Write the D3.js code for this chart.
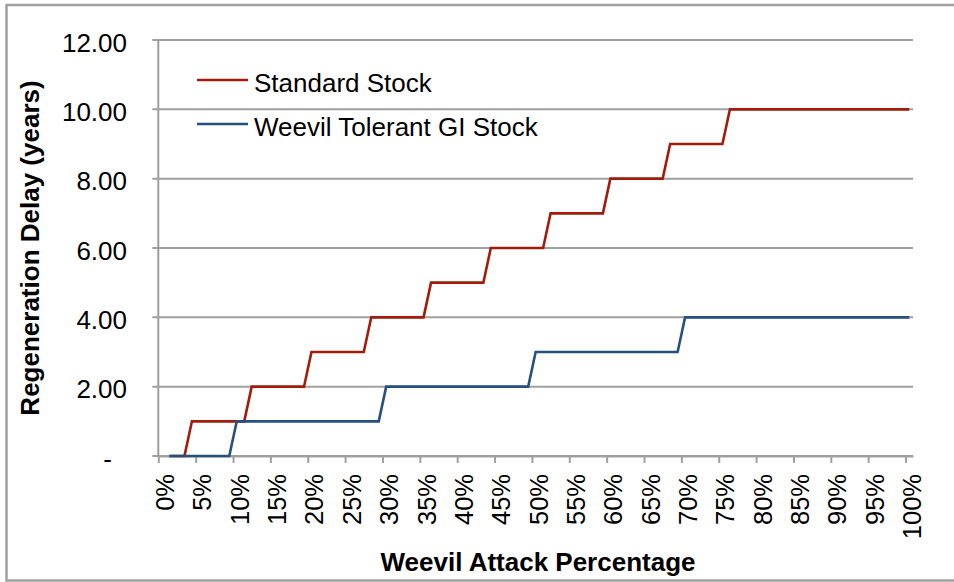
<!DOCTYPE html>
<html>
<head>
	<meta charset="utf-8">
	<script src="https://cdn.jsdelivr.net/npm/d3@7"></script>
</head>
<body>
<style>
body{
	margin:0;
	background:#fff;
}
text{
	font-family:"Liberation Sans", Arial, sans-serif;
	fill:#000;
}
.grid line{
	stroke:#a0a0a0;
	stroke-width:2px;
}
.axis line, .axis path{
	stroke:#a0a0a0;
	stroke-width:2px;
}
.tick-label{
	font-size:26px;
}
.x-label{
	font-size:25.5px;
}
.title{
	font-size:26px;
	font-weight:bold;
}
.series{
	fill:none;
	stroke-width:2.6px;
	stroke-linejoin:miter;
}
.legend-text{
	font-size:26px;
}
</style>
<svg width="954" height="582"></svg>
<script>

// attack levels 1% .. 100% (the 0% category has no value)
var attackPct = d3.range(1, 101);

var standardStock = [
	0,0,0,1,1,1,1,1,1,1,
	1,2,2,2,2,2,2,2,2,3,
	3,3,3,3,3,3,3,4,4,4,
	4,4,4,4,4,5,5,5,5,5,
	5,5,5,6,6,6,6,6,6,6,
	6,7,7,7,7,7,7,7,7,8,
	8,8,8,8,8,8,8,9,9,9,
	9,9,9,9,9,10,10,10,10,10,
	10,10,10,10,10,10,10,10,10,10,
	10,10,10,10,10,10,10,10,10,10
];

var tolerantStock = [
	0,0,0,0,0,0,0,0,0,1,
	1,1,1,1,1,1,1,1,1,1,
	1,1,1,1,1,1,1,1,1,2,
	2,2,2,2,2,2,2,2,2,2,
	2,2,2,2,2,2,2,2,2,3,
	3,3,3,3,3,3,3,3,3,3,
	3,3,3,3,3,3,3,3,3,4,
	4,4,4,4,4,4,4,4,4,4,
	4,4,4,4,4,4,4,4,4,4,
	4,4,4,4,4,4,4,4,4,4
];

var seriesNames = ["Standard Stock", "Weevil Tolerant GI Stock"];
var seriesColors = ["#a01c0c", "#27507e"];

var yTicks = [0, 2, 4, 6, 8, 10, 12];
var yTickLabels = ["-", "2.00", "4.00", "6.00", "8.00", "10.00", "12.00"];
var xLabelPct = [0,5,10,15,20,25,30,35,40,45,50,55,60,65,70,75,80,85,90,95,100];
var xLabels = ["0%","5%","10%","15%","20%","25%","30%","35%","40%","45%","50%","55%","60%","65%","70%","75%","80%","85%","90%","95%","100%"];

var svg = d3.select("svg");

var plotLeft = 158.3, plotRight = 913, plotTop = 40, plotBottom = 456;

// category axis: 101 bands (0%..100%), ticks sit between bands
var x = d3.scaleLinear().domain([-0.5, 100.5]).range([plotLeft, plotRight]);
var y = d3.scaleLinear().domain([0, 12]).range([plotBottom, plotTop]);

// outer chart border
svg.append("rect")
	.attr("x", 6.5)
	.attr("y", 5)
	.attr("width", 960)
	.attr("height", 575.5)
	.attr("fill", "none")
	.attr("stroke", "#a0a0a0")
	.attr("stroke-width", 2.5);

// horizontal gridlines
svg.append("g")
	.attr("class", "grid")
	.selectAll("line")
	.data(yTicks)
	.enter().append("line")
	.attr("x1", plotLeft - 6)
	.attr("x2", plotRight)
	.attr("y1", function(d){ return y(d); })
	.attr("y2", function(d){ return y(d); });

// y axis line
svg.append("g")
	.attr("class", "axis")
	.append("line")
	.attr("x1", plotLeft).attr("x2", plotLeft)
	.attr("y1", plotTop - 1).attr("y2", plotBottom);

// y tick labels
svg.append("g")
	.selectAll("text")
	.data(yTicks)
	.enter().append("text")
	.attr("class", "tick-label")
	.attr("text-anchor", "end")
	.attr("x", function(d){ return d == 0 ? 112 : 127; })
	.attr("y", function(d){ return y(d); })
	.attr("dy", "0.45em")
	.text(function(d, i){ return yTickLabels[i]; });

// x axis with ticks on band boundaries
var xTickPos = xLabelPct.map(function(p){ return p - 0.5; });
var xAxis = d3.axisBottom(x)
	.tickValues(xTickPos)
	.tickSize(7)
	.tickSizeOuter(0)
	.tickFormat("");

svg.append("g")
	.attr("class", "axis")
	.attr("transform", "translate(0," + plotBottom + ")")
	.call(xAxis);

svg.append("g")
	.selectAll("text")
	.data(xLabelPct)
	.enter().append("text")
	.attr("class", "x-label")
	.attr("text-anchor", "end")
	.attr("transform", function(d){ return "translate(" + (x(d) + 3) + ",474) rotate(-90)"; })
	.attr("dy", "0.35em")
	.text(function(d, i){ return xLabels[i]; });

// series lines
var line = d3.line()
	.x(function(d){ return x(d.pct); })
	.y(function(d){ return y(d.value); });

[standardStock, tolerantStock].forEach(function(values, s){
	var points = attackPct.map(function(p, i){ return {pct: p, value: values[i]}; });
	svg.append("path")
		.datum(points)
		.attr("class", "series")
		.attr("stroke", seriesColors[s])
		.attr("d", line);
});

// legend
var legend = svg.append("g");
seriesNames.forEach(function(name, i){
	var ly = 80 + i * 44;
	legend.append("line")
		.attr("x1", 197).attr("x2", 248)
		.attr("y1", ly).attr("y2", ly)
		.attr("stroke", seriesColors[i])
		.attr("stroke-width", 2.6);
	legend.append("text")
		.attr("class", "legend-text")
		.attr("x", 254)
		.attr("y", ly + 12.3)
		.text(name);
});

// axis titles
svg.append("text")
	.attr("class", "title")
	.attr("text-anchor", "middle")
	.attr("transform", "translate(39,248) rotate(-90)")
	.text("Regeneration Delay (years)");

svg.append("text")
	.attr("class", "title")
	.attr("text-anchor", "middle")
	.attr("x", 538)
	.attr("y", 570.5)
	.text("Weevil Attack Percentage");

</script>
</body>
</html>
